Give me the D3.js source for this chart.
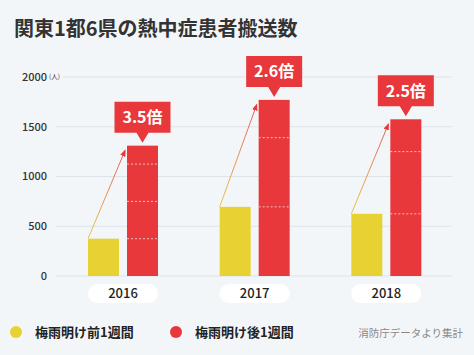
<!DOCTYPE html>
<html><head><meta charset="utf-8">
<script src="https://cdn.jsdelivr.net/npm/d3@7"></script>
<style>
html,body{margin:0;padding:0;background:#f3f6f9;}
svg{display:block;font-family:"Noto Sans CJK JP","Noto Sans",sans-serif;}
</style></head>
<body>
<svg id="c" width="474" height="355"></svg>
<script>
const title = "関東1都6県の熱中症患者搬送数";
const years = ["2016", "2017", "2018"];
const seriesNames = ["梅雨明け前1週間", "梅雨明け後1週間"];
const beforeValues = [375, 695, 625];
const afterValues = [1310, 1770, 1575];
const ratioLabels = ["3.5倍", "2.6倍", "2.5倍"];
const yTicks = [0, 500, 1000, 1500, 2000];
const unitLabel = "(人)";
const sourceLabel = "消防庁データより集計";

const colors = ["#e8d233", "#e8383b"];
const svg = d3.select("#c");
const W = 474, H = 355;

svg.append("rect").attr("width", W).attr("height", H).attr("fill", "#f3f6f9");

const defs = svg.append("defs");
const grad = defs.append("linearGradient").attr("id", "ag")
  .attr("x1", "0").attr("y1", "1").attr("x2", "0").attr("y2", "0");
grad.append("stop").attr("offset", "0").attr("stop-color", "#e3c94a");
grad.append("stop").attr("offset", "1").attr("stop-color", "#e8575a");
defs.append("marker").attr("id", "ah").attr("viewBox", "0 0 10 10")
  .attr("refX", 8).attr("refY", 5).attr("markerWidth", 7).attr("markerHeight", 7)
  .attr("orient", "auto").attr("markerUnits", "userSpaceOnUse")
  .append("path").attr("d", "M0,1 L10,5 L0,9 Z").attr("fill", "#e8383b");

svg.append("text").attr("x", 14).attr("y", 36).text(title)
  .attr("font-size", 20).attr("font-weight", 700).attr("fill", "#333");

const y = d3.scaleLinear().domain([0, 2000]).range([276, 77]);
const x0 = d3.scaleBand().domain(years).range([57, 452]);
const x1 = d3.scaleBand().domain(seriesNames).range([31, 101]).paddingInner(0.205);

// grid
const g = svg.append("g");
yTicks.forEach(t => {
  g.append("line").attr("x1", t === 2000 ? 63 : 56).attr("x2", 452)
    .attr("y1", y(t)).attr("y2", y(t)).attr("stroke", "#dde3ea").attr("stroke-width", 1);
  g.append("text").attr("x", 47).attr("y", y(t)).attr("dy", "0.35em")
    .attr("text-anchor", "end").attr("font-size", 11).attr("font-weight", 500)
    .attr("fill", "#333").text(t);
});
g.append("text").attr("x", 49).attr("y", y(2000)).attr("dy", "0.35em")
  .attr("font-size", 6.5).attr("fill", "#333").text(unitLabel);

years.forEach((yr, i) => {
  const gx = x0(yr);
  const xb = gx + x1(seriesNames[0]);
  const xa = gx + x1(seriesNames[1]);
  const bw = x1.bandwidth();
  const yb = y(beforeValues[i]);
  const ya = y(afterValues[i]);
  // bars
  svg.append("rect").attr("x", xb).attr("y", yb).attr("width", bw)
    .attr("height", y(0) - yb).attr("fill", colors[0]);
  svg.append("rect").attr("x", xa).attr("y", ya).attr("width", bw)
    .attr("height", y(0) - ya).attr("fill", colors[1]);
  // dashed multiples
  const unitH = y(0) - yb;
  for (let k = 1; y(0) - k * unitH > ya + 4; k++) {
    svg.append("line").attr("x1", xa).attr("x2", xa + bw)
      .attr("y1", y(0) - k * unitH).attr("y2", y(0) - k * unitH)
      .attr("stroke", "#f7bcbc").attr("stroke-width", 1).attr("stroke-dasharray", "2,2");
  }
  // arrow
  svg.append("line").attr("x1", xb).attr("y1", yb).attr("x2", xa - 2).attr("y2", ya + 5)
    .attr("stroke", "url(#ag)").attr("stroke-width", 1).attr("marker-end", "url(#ah)");
  // callout
  const cx = xa + bw / 2;
  const bh = 31, bwid = 56;
  const bottom = ya - 13;
  svg.append("path")
    .attr("d", `M${cx - bwid / 2},${bottom - bh} H${cx + bwid / 2} V${bottom} H${cx + 6} L${cx},${ya - 3} L${cx - 6},${bottom} H${cx - bwid / 2} Z`)
    .attr("fill", colors[1]);
  svg.append("text").attr("x", cx).attr("y", bottom - bh / 2).attr("dy", "0.36em")
    .attr("text-anchor", "middle").attr("font-size", 16).attr("font-weight", 700)
    .attr("fill", "#fff").text(ratioLabels[i]);
  // year pill
  svg.append("rect").attr("x", gx + 31).attr("y", 284).attr("width", 70).attr("height", 19)
    .attr("rx", 9.5).attr("fill", "#fff");
  svg.append("text").attr("x", gx + 66).attr("y", 293.5).attr("dy", "0.36em")
    .attr("text-anchor", "middle").attr("font-size", 13).attr("font-weight", 500)
    .attr("fill", "#222").text(yr);
});

// legend
const lx = [16, 176];
seriesNames.forEach((s, i) => {
  svg.append("circle").attr("cx", lx[i]).attr("cy", 332).attr("r", 6).attr("fill", colors[i]);
  svg.append("text").attr("x", lx[i] + 19).attr("y", 332).attr("dy", "0.36em")
    .attr("font-size", 13).attr("font-weight", 700).attr("fill", "#222").text(s);
});
svg.append("text").attr("x", 463).attr("y", 333).attr("dy", "0.36em")
  .attr("text-anchor", "end").attr("font-size", 10.5).attr("fill", "#888").text(sourceLabel);
</script>
</body></html>
